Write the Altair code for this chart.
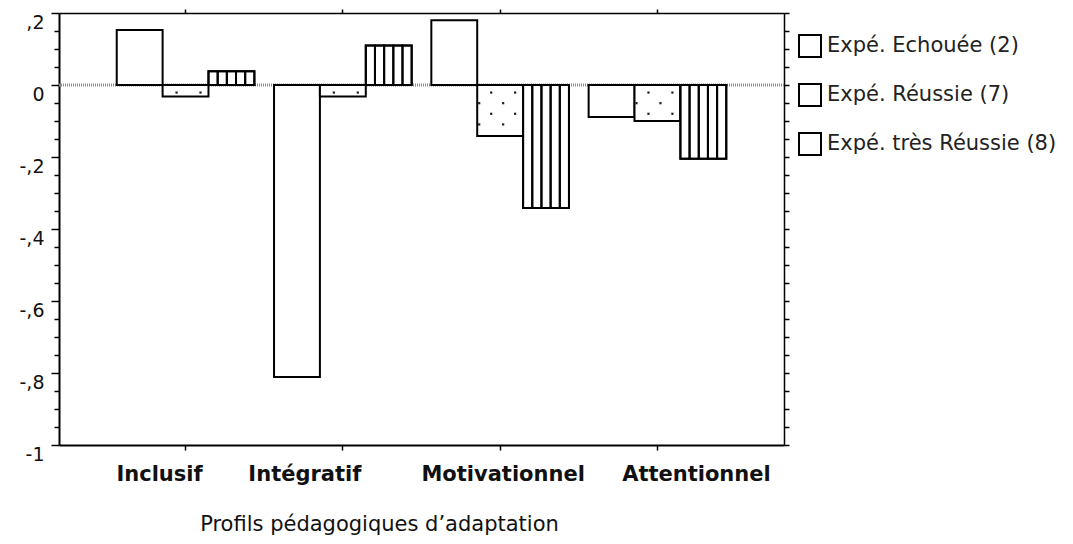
import altair as alt
import pandas as pd

categories = ["Inclusif", "Intégratif", "Motivationnel", "Attentionnel"]
series = ["Expé. Echouée (2)", "Expé. Réussie (7)", "Expé. très Réussie (8)"]
echouee = [0.153, -0.811, 0.180, -0.089]
reussie = [-0.032, -0.032, -0.142, -0.100]
tres_reussie = [0.038, 0.110, -0.342, -0.205]
y_ticks = [round(0.2 - 0.05 * i, 2) for i in range(25)]

FONT = "DejaVu Sans"

rows = []
for i, c in enumerate(categories):
    for s, vals in zip(series, [echouee, reussie, tres_reussie]):
        rows.append({"cat": c, "series": s, "value": vals[i]})
df = pd.DataFrame(rows)

# vertical-stripe pattern for "très Réussie": 5 adjacent outlined sub-bars
stripe_rows = []
for i, c in enumerate(categories):
    for k in range(5):
        stripe_rows.append({"cat": c, "sub": 10 + k, "value": tres_reussie[i]})
stripe_df = pd.DataFrame(stripe_rows)

# dotted pattern for "Réussie"
dot_rows = []
for i, c in enumerate(categories):
    v = reussie[i]
    k = 0
    yv = -0.021
    while yv > v + 0.004:
        slots = [10, 14] if k % 2 == 0 else [8, 12]
        for s in slots:
            dot_rows.append({"cat": c, "slot": s, "y": yv})
        k += 1
        yv = round(yv - 0.0295, 4)
dot_df = pd.DataFrame(dot_rows)

zero_df = pd.DataFrame({"v": [0.0]})

xscale = alt.Scale(domain=categories, paddingInner=0.125, paddingOuter=0.367)
yscale = alt.Scale(domain=[-1, 0.2], nice=False, zero=False)

major_test = "abs(datum.value*5 - round(datum.value*5)) < 0.01"
label_expr = (
    f"!({major_test}) ? '' : abs(datum.value) < 0.001 ? '0' : datum.value <= -0.999 ? '-1' : "
    "(datum.value < 0 ? '-' : '') + ',' + toString(round(abs(datum.value)*10))"
)

left_axis = alt.Axis(
    orient="left", values=y_ticks, labelExpr=label_expr, labelOverlap=False,
    labelFlush=False, labelFontSize=19, labelFont=FONT, labelColor="#111",
    labelBaseline="top", labelPadding=7, tickColor="black", tickWidth=1.5,
    tickSize={"condition": {"test": major_test, "value": 8}, "value": 5},
    domainColor="black", domainWidth=2, grid=False, title=None,
)
right_axis = alt.Axis(
    orient="right", values=y_ticks, labels=False, tickSize=5, tickColor="black",
    tickWidth=1.5, domainColor="black", domainWidth=1.5, grid=False, title=None,
)
bottom_axis = alt.Axis(
    orient="bottom", labelAngle=0, labelFontSize=21, labelFont=FONT,
    labelFontWeight="bold", labelColor="#111", labelBaseline="top", labelPadding=13,
    labelOffset={"condition": [
        {"test": "datum.value === 'Inclusif'", "value": -26},
        {"test": "datum.value === 'Intégratif'", "value": -38},
        {"test": "datum.value === 'Motivationnel'", "value": 3},
    ], "value": 39},
    tickSize=5, tickColor="black", tickWidth=1.5, domainColor="black", domainWidth=2,
    title="Profils pédagogiques d’adaptation", titleFont=FONT, titleFontSize=21,
    titleFontWeight="normal", titleColor="#111", titleX=320, titleY=79,
    titleBaseline="middle", titleAlign="center", grid=False,
)
top_axis = alt.Axis(
    orient="top", labels=False, tickSize=4, tickColor="black", tickWidth=1.5,
    domainColor="black", domainWidth=1.5, grid=False, title=None,
)

zero = alt.Chart(zero_df).mark_rule(color="#8c8c8c", strokeDash=[1, 1], strokeWidth=3).encode(
    y=alt.Y("v:Q", scale=yscale, axis=None)
)

bars = alt.Chart(df).mark_bar(stroke="black", strokeWidth=2).encode(
    x=alt.X("cat:N", sort=categories, scale=xscale, axis=bottom_axis),
    xOffset=alt.XOffset("series:N", sort=series,
                        scale=alt.Scale(domain=series, paddingInner=0, paddingOuter=0)),
    y=alt.Y("value:Q", scale=yscale, axis=left_axis),
    fill=alt.Fill("series:N", sort=series,
                  scale=alt.Scale(domain=series, range=["white", "white", "white"]),
                  legend=alt.Legend(
                      orient="none", legendX=739, legendY=21, title=None,
                      symbolType="square", symbolSize=484, symbolStrokeColor="black",
                      symbolStrokeWidth=2, symbolFillColor="white",
                      labelFontSize=21, labelFont=FONT, labelColor="#222",
                      labelLimit=320, labelOffset=5, rowPadding=19, padding=0,
                  )),
)

stripes = alt.Chart(stripe_df).mark_bar(fillOpacity=0, stroke="black", strokeWidth=2).encode(
    x=alt.X("cat:N", sort=categories, scale=xscale, axis=top_axis),
    xOffset=alt.XOffset("sub:O", scale=alt.Scale(domain=list(range(15)), paddingInner=0, paddingOuter=0)),
    y=alt.Y("value:Q", scale=yscale, axis=right_axis),
)

dots = alt.Chart(dot_df).mark_square(size=5, color="#222", opacity=1).encode(
    x=alt.X("cat:N", sort=categories, scale=xscale, axis=None),
    xOffset=alt.XOffset("slot:O", scale=alt.Scale(domain=list(range(24)), paddingInner=0, paddingOuter=0)),
    y=alt.Y("y:Q", scale=yscale, axis=None),
)

chart = (
    alt.layer(zero, bars, stripes, dots)
    .resolve_scale(xOffset="independent")
    .resolve_axis(x="independent", y="independent")
    .properties(
        width=725, height=432,
        padding={"left": 51, "top": 5, "right": 281, "bottom": 92},
        autosize=alt.AutoSizeParams(type="none"),
    )
    .configure_view(stroke=None)
    .configure(font=FONT)
)

chart.save("out.html", embed_options={"renderer": "svg", "actions": False})
